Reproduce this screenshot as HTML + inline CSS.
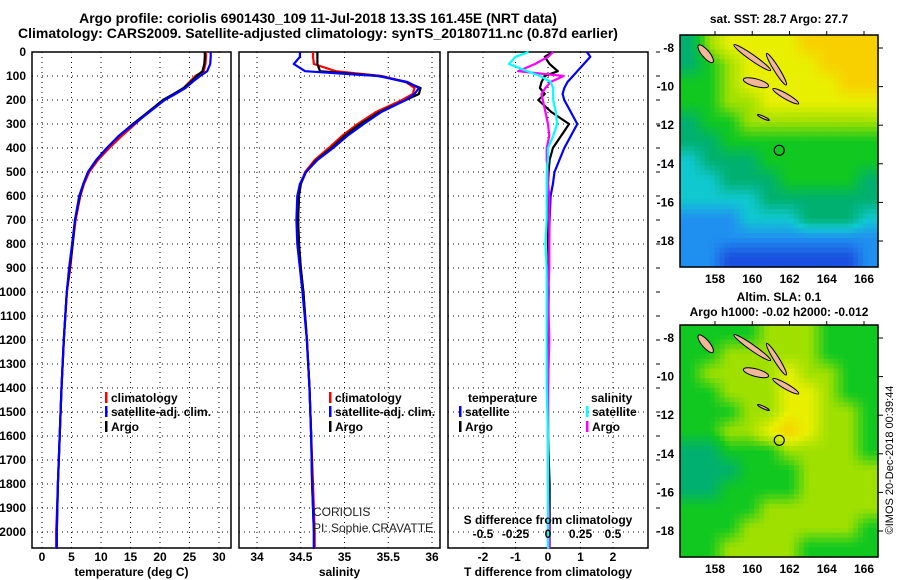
<!DOCTYPE html>
<html><head><meta charset="utf-8"><style>
body{margin:0;background:#fff;width:900px;height:580px;overflow:hidden}
svg{display:block;font-family:"Liberation Sans",sans-serif}
.t{font-weight:bold;font-size:12px}
.h{font-weight:bold;font-size:14px}
</style></head><body>
<svg id="fig" width="900" height="580">
<text class="h" x="318" y="23" text-anchor="middle">Argo profile: coriolis 6901430_109 11-Jul-2018 13.3S 161.45E (NRT data)</text>
<text class="h" x="318" y="38" text-anchor="middle">Climatology: CARS2009. Satellite-adjusted climatology: synTS_20180711.nc (0.87d earlier)</text>
<g id="g"></g>
</svg>
<script>
const depths=[0,20,50,80,100,125,150,175,200,250,300,350,400,450,500,550,600,700,800,900,1000,1200,1400,1600,1800,2000,2070];
const tArgo=[27.6,27.6,27.5,27.2,26.2,25.2,24.0,22.3,20.5,18.0,15.4,13.0,11.0,9.2,7.8,7.0,6.4,5.6,5.2,4.7,4.2,3.7,3.3,3.0,2.7,2.5,2.5];
const tClim=[27.8,27.8,27.7,27.4,26.0,25.0,24.0,22.5,20.7,18.0,15.8,13.5,11.4,9.5,8.0,7.1,6.5,5.7,5.2,4.8,4.2,3.7,3.3,3.0,2.7,2.4,2.4];
const tSat=[28.6,28.6,28.5,28.0,26.8,25.5,24.3,22.6,20.8,18.2,15.6,13.0,11.0,9.2,7.8,7.0,6.3,5.6,5.1,4.6,4.2,3.7,3.3,3.0,2.7,2.5,2.5];
const sArgo=[34.69,34.69,34.69,34.72,35.40,35.70,35.87,35.85,35.70,35.40,35.18,35.00,34.85,34.68,34.56,34.50,34.48,34.47,34.48,34.50,34.53,34.57,34.60,34.62,34.63,34.65,34.65];
const sClim=[34.64,34.64,34.65,34.90,35.42,35.70,35.80,35.78,35.66,35.36,35.15,34.97,34.82,34.66,34.55,34.50,34.48,34.47,34.48,34.50,34.53,34.57,34.60,34.62,34.64,34.66,34.66];
const sSat=[34.49,34.49,34.42,34.55,35.38,35.72,35.85,35.80,35.70,35.42,35.22,35.03,34.87,34.69,34.56,34.49,34.46,34.45,34.46,34.49,34.52,34.57,34.60,34.62,34.63,34.65,34.65];
const dTArgo=[0.15,-0.1,0.05,0.3,-0.1,-0.2,-0.25,-0.1,-0.3,0.1,0.65,0.4,0.15,0.05,0.02,0,0,0,0,0.03,0,0,0,0,0.05,0.05,0.05];
const dTSat=[1.2,1.3,1.1,0.9,0.77,0.6,0.5,0.45,0.5,0.7,0.9,0.7,0.5,0.35,0.2,0.15,0.08,0.05,0.03,0.02,0.02,0.01,0,0,0,0,0];
const dSArgo=[0.04,0.0,-0.1,-0.23,0.12,0.02,-0.02,-0.05,-0.04,-0.02,0.0,0.01,-0.01,-0.01,0,0,0.01,0.01,0.01,0.01,0,0.01,0,0,0,0.01,0.01];
const dSSat=[-0.15,-0.25,-0.3,-0.16,-0.06,0.02,0.04,0.04,0.04,0.06,0.07,0.04,0,0,-0.01,-0.01,-0.01,-0.01,-0.02,-0.01,-0.01,-0.01,-0.01,0,0,0,0];
const depthTicks=[0,100,200,300,400,500,600,700,800,900,1000,1100,1200,1300,1400,1500,1600,1700,1800,1900,2000];
const tTicks=[0,5,10,15,20,25,30];
const sTicks=[34,34.5,35,35.5,36];
const sTickLabels=["34","34.5","35","35.5","36"];
const dTTicks=[-2,-1,0,1,2];
const dSTicks=[-0.5,-0.25,0,0.25,0.5];
const dSTickLabels=["-0.5","-0.25","0","0.25","0.5"];
const latTicks=[-8,-10,-12,-14,-16,-18];
const lonTicks=[158,160,162,164,166];
const sstGrid=[[3,5,6,6,6,6,7,7,7,7],[3,4,5,6,6,6,6,7,7,7],[4,4,5,6,6,6,6,6,7,7],[4,4,5,5,6,6,6,6,6,6],[3,4,4,5,5,5,5,5,5,5],[3,3,4,4,4,4,4,4,4,4],[2,3,3,3,4,4,4,4,4,4],[2,2,3,3,3,4,4,4,4,3],[2,2,2,2,3,3,3,3,3,3],[1,1,1,2,2,2,3,3,3,2],[1,1,1,1,1,1,1,1,1,1],[1,1,0,0,0,0,0,0,0,1]];
const slaGrid=[[4,4,4,4,5,5,5,4,4,4],[4,4,5,5,5,5,5,4,4,4],[4,5,5,5,5,6,5,5,4,4],[4,4,5,5,5,6,6,5,4,4],[4,4,4,5,5,6,6,5,5,4],[4,4,5,5,6,7,6,5,5,4],[3,3,4,4,4,5,5,5,5,4],[3,3,3,4,4,4,5,5,5,5],[3,3,4,4,4,4,5,5,5,5],[4,4,4,4,5,5,5,5,5,5],[4,4,4,5,5,5,5,5,5,4],[4,4,5,5,5,5,4,4,4,4]];
const palette=[[26,80,224],[32,144,240],[16,200,208],[0,176,112],[16,200,32],[160,224,0],[232,240,0],[248,208,0]];

const NS="http://www.w3.org/2000/svg";
const G=document.getElementById('g');
function mk(tag,at,parent){const e=document.createElementNS(NS,tag);for(const k in at)e.setAttribute(k,at[k]);(parent||G).appendChild(e);return e;}
const TOP=52,BOT=548;
const yD=d=>TOP+d*0.24;
function lin(d0,d1,p0,p1){return v=>p0+(v-d0)*(p1-p0)/(d1-d0);}
const xT=lin(0,30,42,219), xS=lin(34,36,257,432), xDT=lin(0,1,548,580.5), xDS=lin(0,1,548,678);

function panel(name,x0,x1,vgrid,labels,xf,xlabel,showDepth,rightTicks){
  const g=mk('g',{});
  
  
  depthTicks.forEach(d=>{const y=yD(d);
    const l=mk('line',{x1:x0,x2:x1,y1:y,y2:y,stroke:'#000','stroke-width':1,'stroke-dasharray':'1,4'},g);
    
    if(showDepth){const t=mk('text',{class:'t',x:x0-6,y:y+4,'text-anchor':'end'},g);t.textContent=d;
      }
    if(rightTicks){mk('line',{x1:x1+8,x2:x1+12,y1:y,y2:y,stroke:'#000'},g);}
  });
  vgrid.forEach((v,i)=>{const x=xf(v);
    const l=mk('line',{x1:x,x2:x,y1:TOP,y2:BOT,stroke:'#000','stroke-width':1,'stroke-dasharray':'1,4'},g);
    
    const t=mk('text',{class:'t',x:x,y:561,'text-anchor':'middle'},g);t.textContent=labels[i];
    });
  const r=mk('rect',{x:x0,y:TOP,width:x1-x0,height:BOT-TOP,fill:'none',stroke:'#000','stroke-width':1.5},g);
  
  const t=mk('text',{class:'t',x:(x0+x1)/2,y:576,'text-anchor':'middle'},g);t.textContent=xlabel;
  
}
panel('temperature-panel',32,231,tTicks,tTicks.map(String),xT,'temperature (deg C)',true,false);
panel('salinity-panel',239,440,sTicks,sTickLabels,xS,'salinity',false,false);
panel('difference-panel',448,648,dTTicks,dTTicks.map(String),xDT,'T difference from climatology',false,true);

function line(vals,xf,color,name,w){
  const pts=vals.map((v,i)=>xf(v).toFixed(1)+','+yD(depths[i]).toFixed(1)).join(' ');
  const p=mk('polyline',{points:pts,fill:'none',stroke:color,'stroke-width':w||2.2,'stroke-linejoin':'round'});
  
  
}
line(tClim,xT,'#f00','temp-climatology-line');line(tArgo,xT,'#000','temp-argo-line');line(tSat,xT,'#00f','temp-satellite-line');
line(sClim,xS,'#f00','sal-climatology-line');line(sArgo,xS,'#000','sal-argo-line');line(sSat,xS,'#00f','sal-satellite-line');
line(dTSat,xDT,'#00f','tdiff-satellite-line');line(dTArgo,xDT,'#000','tdiff-argo-line');
line(dSArgo,xDS,'#f0f','sdiff-argo-line');line(dSSat,xDS,'#0ff','sdiff-satellite-line');

function legend(x,y,color,label,name){
  const g=mk('g',{});
  
  
  if(color) mk('rect',{x:x,y:y-10,width:2.5,height:11,fill:color},g);
  const t=mk('text',{class:'t',x:x+6,y:y},g);t.textContent=label;
}
legend(105,402,'#f00','climatology','legend-climatology');
legend(105,416,'#00f','satellite-adj. clim.','legend-satellite-adj');
legend(105,431,'#000','Argo','legend-argo');
legend(329,402,'#f00','climatology','legend-climatology-2');
legend(329,416,'#00f','satellite-adj. clim.','legend-satellite-adj-2');
legend(329,431,'#000','Argo','legend-argo-2');
legend(462,402,null,'temperature','legend-temperature-header');
legend(459,416,'#00f','satellite','legend-tdiff-satellite');
legend(459,431,'#000','Argo','legend-tdiff-argo');
legend(585,402,null,'salinity','legend-salinity-header');
legend(586,416,'#0ff','satellite','legend-sdiff-satellite');
legend(586,431,'#f0f','Argo','legend-sdiff-argo');

let t=mk('text',{x:313,y:516,'font-size':12,fill:'#222'});t.textContent='CORIOLIS';

t=mk('text',{x:313,y:532,'font-size':12,fill:'#222'});t.textContent='PI: Sophie CRAVATTE';

t=mk('text',{class:'t',x:548,y:524,'text-anchor':'middle'});t.textContent='S difference from climatology';

dSTicks.forEach((v,i)=>{const tt=mk('text',{class:'t',x:xDS(v),y:538,'text-anchor':'middle'});tt.textContent=dSTickLabels[i];
  });

// maps
const mLon=lin(158,166,715,864);
function colorAt(v){const i=Math.max(0,Math.min(6,Math.floor(v)));const f=Math.max(0,Math.min(1,v-i));
  const a=palette[i],b=palette[i+1];return 'rgb('+a.map((c,k)=>Math.round(c+(b[k]-c)*f)).join(',')+')';}
function map(name,y0,grid){
  const g=mk('g',{});
  
  
  const x0=680,x1=878,h=232,rows=grid.length,cols=grid[0].length,sub=4;
  const cw=(x1-x0)/(cols*sub),ch=h/(rows*sub);
  for(let r=0;r<rows*sub;r++)for(let c=0;c<cols*sub;c++){
    const fr=Math.max(0,Math.min(rows-1,(r+0.5)/sub-0.5)),fc=Math.max(0,Math.min(cols-1,(c+0.5)/sub-0.5));
    const r0=Math.floor(fr),c0=Math.floor(fc),r1=Math.min(rows-1,r0+1),c1=Math.min(cols-1,c0+1),ar=fr-r0,ac=fc-c0;
    const v=(grid[r0][c0]*(1-ac)+grid[r0][c1]*ac)*(1-ar)+(grid[r1][c0]*(1-ac)+grid[r1][c1]*ac)*ar;
    const cell=mk('rect',{x:x0+c*cw,y:y0+r*ch,width:cw+0.6,height:ch+0.6,fill:colorAt(v)},g);
    
    
  }
  const lat=v=>y0+13+(-8-v)*19.3;
  [[-8.5,160.0,1.2,0.15,35],[-9.1,161.3,1.0,0.14,58],[-9.8,160.2,0.7,0.2,15],[-10.5,161.8,0.8,0.14,30],[-8.3,157.5,0.6,0.2,50],[-11.6,160.6,0.35,0.06,25]].forEach(a=>{
    const cx=mLon(a[1]),cy=lat(a[0]);
    mk('ellipse',{cx:cx,cy:cy,rx:a[2]*18.6,ry:a[3]*19,fill:'#f0b898',stroke:'#000','stroke-width':1,transform:`rotate(${a[4]} ${cx} ${cy})`},g);
  });
  mk('circle',{cx:mLon(161.45),cy:lat(-13.3),r:5,fill:'none',stroke:'#000','stroke-width':1.2},g);
  mk('rect',{x:x0,y:y0,width:x1-x0,height:h,fill:'none',stroke:'#000','stroke-width':1.5},g);
  latTicks.forEach(v=>{const y=lat(v);mk('line',{x1:x1,x2:x1+5,y1:y,y2:y,stroke:'#000'},g);
    const tt=mk('text',{class:'t',x:x0-6,y:y+4,'text-anchor':'end'},g);tt.textContent=v;});
  lonTicks.forEach(v=>{const x=mLon(v);mk('line',{x1:x,x2:x,y1:y0-4,y2:y0,stroke:'#000'},g);
    const tt=mk('text',{class:'t',x:x,y:y0+h+16,'text-anchor':'middle'},g);tt.textContent=v;});
}
map('sst-map',35,sstGrid);
map('sla-map',325,slaGrid);
t=mk('text',{class:'t',x:779,y:23,'text-anchor':'middle'});t.textContent='sat. SST: 28.7 Argo: 27.7';

t=mk('text',{class:'t',x:779,y:301,'text-anchor':'middle'});t.textContent='Altim. SLA: 0.1';

t=mk('text',{class:'t',x:779,y:316,'text-anchor':'middle'});t.textContent='Argo h1000: -0.02 h2000: -0.012';

t=mk('text',{x:893,y:460,'font-size':11,'text-anchor':'middle',transform:'rotate(-90 893 460)'});t.textContent='©IMOS 20-Dec-2018 00:39:44';

</script>
</body></html>
